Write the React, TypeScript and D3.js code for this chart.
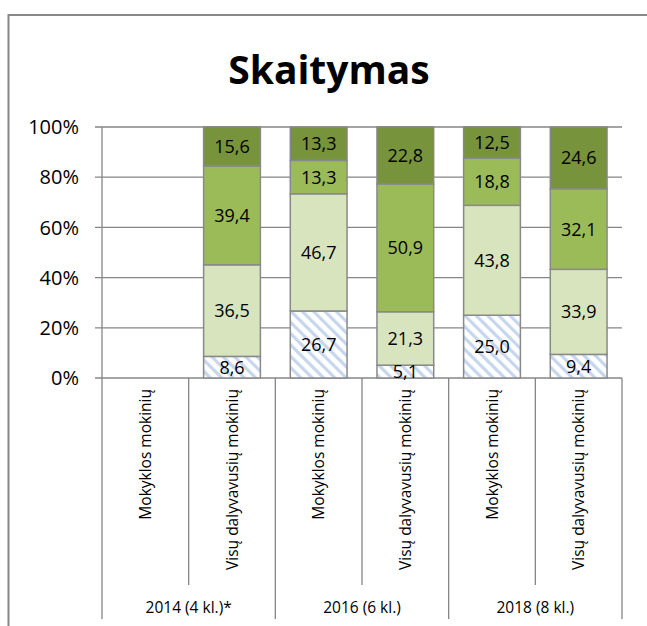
import React from "react";
import * as d3 from "d3";

const categories = [
  "Mokyklos mokinių",
  "Visų dalyvavusių mokinių",
  "Mokyklos mokinių",
  "Visų dalyvavusių mokinių",
  "Mokyklos mokinių",
  "Visų dalyvavusių mokinių",
];
const groups = ["2014 (4 kl.)*", "2016 (6 kl.)", "2018 (8 kl.)"];
// stacked from bottom to top; null = no data
const level1: (number | null)[] = [null, 8.6, 26.7, 5.1, 25.0, 9.4];
const level2: (number | null)[] = [null, 36.5, 46.7, 21.3, 43.8, 33.9];
const level3: (number | null)[] = [null, 39.4, 13.3, 50.9, 18.8, 32.1];
const level4: (number | null)[] = [null, 15.6, 13.3, 22.8, 12.5, 24.6];
const yTicks = [0, 20, 40, 60, 80, 100];
const title = "Skaitymas";

const seriesList = [level1, level2, level3, level4];
const fills = ["url(#hatch)", "#D7E4BD", "#9BBB59", "#77933C"];

const W = 647;
const H = 626;
const left = 102;
const right = 622;
const top = 127;
const bottom = 378;
const font = "'Open Sans', 'Noto Sans', sans-serif";
const grid = "#868686";

export default function App() {
  const x = d3
    .scaleBand<number>()
    .domain(d3.range(categories.length))
    .range([left, right])
    .paddingInner(0.345)
    .paddingOuter(0.1725);
  const step = (right - left) / categories.length;
  const y = d3.scaleLinear().domain([0, 100]).range([bottom, top]);
  const fmt = (v: number) => v.toFixed(1).replace(".", ",");

  const bars: React.ReactNode[] = [];
  const labels: React.ReactNode[] = [];
  categories.forEach((_, i) => {
    let cum = 0;
    seriesList.forEach((s, k) => {
      const v = s[i];
      if (v == null) return;
      const y0 = y(cum);
      const y1 = y(cum + v);
      cum += v;
      bars.push(
        <rect
          key={`b${i}-${k}`}
          x={x(i)!}
          y={y1}
          width={x.bandwidth()}
          height={y0 - y1}
          fill={fills[k]}
          stroke="#898989"
          strokeWidth={1.5}
        />
      );
      labels.push(
        <text
          key={`l${i}-${k}`}
          x={x(i)! + x.bandwidth() / 2}
          y={(y0 + y1) / 2}
          dy="0.36em"
          textAnchor="middle"
          fontSize={18}
          fontFamily={font}
          fill="#000"
        >
          {fmt(v)}
        </text>
      );
    });
  });

  return (
    <svg
      width={W}
      height={H}
      style={{ position: "absolute", left: 0, top: 0, display: "block" }}
    >
      <defs>
        <pattern
          id="hatch"
          patternUnits="userSpaceOnUse"
          width={8}
          height={8}
          patternTransform="rotate(-45)"
        >
          <rect width={8} height={8} fill="#fff" />
          <rect x={0} y={0} width={3.2} height={8} fill="#C6D6EC" />
        </pattern>
      </defs>
      <rect x={0} y={0} width={W} height={H} fill="#fff" />
      {/* outer border */}
      <path
        d={`M8.5,${H + 2} L8.5,15 L${W + 2},15`}
        fill="none"
        stroke="#888"
        strokeWidth={2}
      />
      <text
        x={329}
        y={84}
        textAnchor="middle"
        fontSize={39}
        fontWeight="bold"
        fontFamily={font}
        fill="#000"
      >
        {title}
      </text>
      {/* gridlines */}
      {yTicks.map((t) => (
        <g key={`g${t}`}>
          <line
            x1={95}
            x2={right}
            y1={y(t)}
            y2={y(t)}
            stroke={grid}
            strokeWidth={1.3}
          />
          <text
            x={79}
            y={y(t)}
            dy="0.36em"
            textAnchor="end"
            fontSize={20}
            fontFamily={font}
            fill="#000"
          >
            {t}%
          </text>
        </g>
      ))}
      {/* y axis */}
      <line x1={left} x2={left} y1={top} y2={619} stroke={grid} strokeWidth={1.3} />
      {/* category separators */}
      {d3.range(1, categories.length + 1).map((i) => (
        <line
          key={`s${i}`}
          x1={left + i * step}
          x2={left + i * step}
          y1={bottom}
          y2={i % 2 === 0 ? 619 : 585}
          stroke={grid}
          strokeWidth={1.3}
        />
      ))}
      {bars}
      {labels}
      {categories.map((c, i) => (
        <text
          key={`c${i}`}
          transform={`translate(${left + (i + 0.5) * step},389) rotate(-90)`}
          dy="0.36em"
          textAnchor="end"
          fontSize={15.5}
          fontFamily={font}
          fill="#000"
        >
          {c}
        </text>
      ))}
      {groups.map((g, j) => (
        <text
          key={`gr${j}`}
          x={left + (j * 2 + 1) * step}
          y={607}
          dy="0.36em"
          textAnchor="middle"
          fontSize={15.5}
          fontFamily={font}
          fill="#000"
        >
          {g}
        </text>
      ))}
    </svg>
  );
}
